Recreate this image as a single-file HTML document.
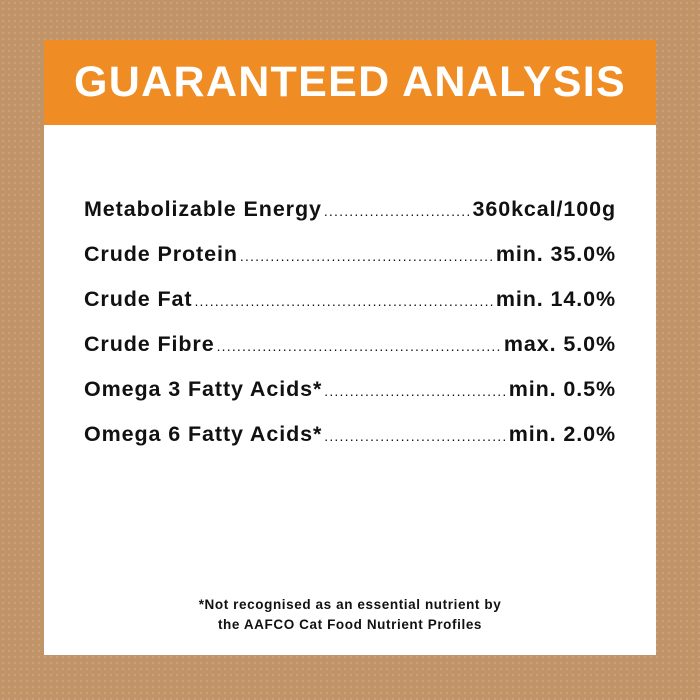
<!DOCTYPE html>
<html><head><style>
body{margin:0;width:700px;height:700px;background:#c19468;position:relative;overflow:hidden;font-family:"Liberation Sans",sans-serif}
.bg{position:absolute;inset:0;background-image:radial-gradient(rgba(255,255,255,.12) 1px,transparent 1.5px);background-size:6px 6px}
.panel{position:absolute;left:44px;top:40px;width:612px;height:615px;background:#fff}
.hdr{position:absolute;left:0;top:0;width:612px;height:85px;background:#ef8d24;color:#fff;font-weight:bold;font-size:43px;text-align:center;line-height:85px;letter-spacing:1.3px}
.row{position:absolute;left:40px;width:532px;display:flex;align-items:baseline;font-weight:bold;font-size:21.5px;letter-spacing:0.9px;color:#111;white-space:nowrap;overflow:hidden}
.row .d{flex:1;overflow:hidden;font-weight:normal;font-size:14px;letter-spacing:1.2px;margin:0 2px}
.row .d:after{content:"......................................................................................................"}
.note{position:absolute;left:0;width:612px;top:555px;text-align:center;font-weight:bold;font-size:13.5px;letter-spacing:0.6px;line-height:20px;color:#111}
</style></head><body><div class="bg"></div>
<div class="panel">
<div class="hdr">GUARANTEED ANALYSIS</div>
<div class="row" style="top:157px"><span>Metabolizable Energy</span><span class="d"></span><span>360kcal/100g</span></div>
<div class="row" style="top:202px"><span>Crude Protein</span><span class="d"></span><span>min. 35.0%</span></div>
<div class="row" style="top:247px"><span>Crude Fat</span><span class="d"></span><span>min. 14.0%</span></div>
<div class="row" style="top:292px"><span>Crude Fibre</span><span class="d"></span><span>max. 5.0%</span></div>
<div class="row" style="top:337px"><span>Omega 3 Fatty Acids*</span><span class="d"></span><span>min. 0.5%</span></div>
<div class="row" style="top:382px"><span>Omega 6 Fatty Acids*</span><span class="d"></span><span>min. 2.0%</span></div>
<div class="note">*Not recognised as an essential nutrient by<br>the AAFCO Cat Food Nutrient Profiles</div>
</div>
</body></html>
